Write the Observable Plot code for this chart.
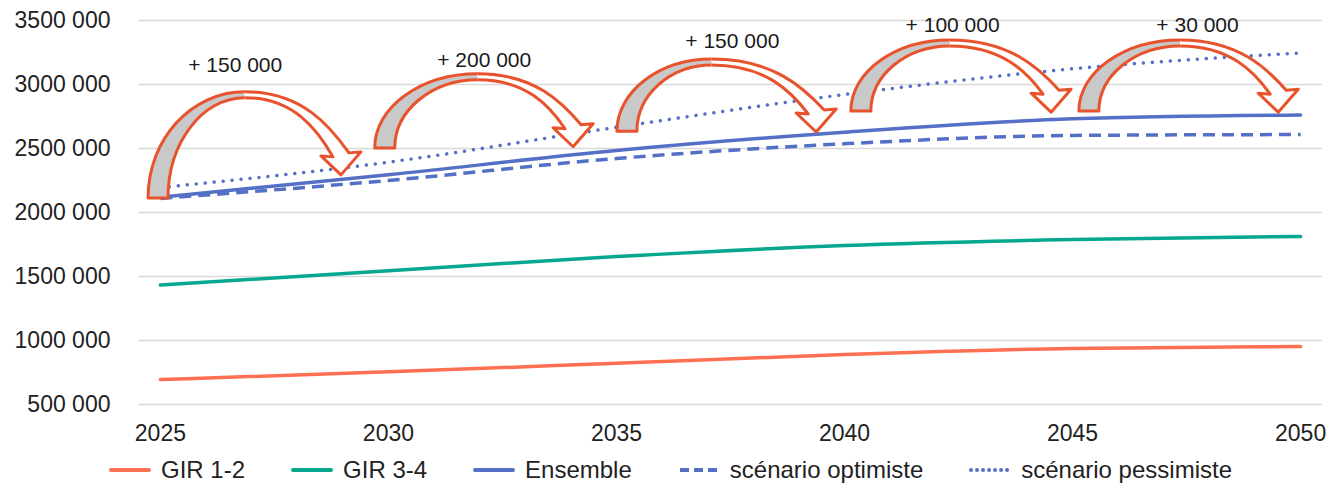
<!DOCTYPE html>
<html>
<head>
<meta charset="utf-8">
<script src="https://cdn.jsdelivr.net/npm/d3@7"></script>
<script src="https://cdn.jsdelivr.net/npm/@observablehq/plot@0.6"></script>
<style>
  html, body { margin: 0; padding: 0; background: #ffffff; }
  body { font-family: "Liberation Sans", Arial, sans-serif; color: #222; }
  #legend { display: flex; justify-content: center; align-items: center; height: 36px;
            font-size: 24px; color: #222; padding-left: 12px; }
  #legend .item { display: flex; align-items: center; margin: 0 23px; }
  #legend svg { margin-right: 10px; }
</style>
</head>
<body>
<div id="chart"></div>
<div id="legend"></div>
<script>
// ---- data ----
const years = [2025, 2030, 2035, 2040, 2045, 2050];
const gir12 = [695000, 755000, 822000, 890000, 938000, 953000];
const gir34 = [1433000, 1545000, 1656000, 1742000, 1789000, 1812000];
const ensemble = [2120000, 2295000, 2484000, 2627000, 2732000, 2762000];
const optimiste = [2110000, 2250000, 2422000, 2537000, 2602000, 2609000];
const pessimiste = [2195000, 2393000, 2666000, 2922000, 3123000, 3247000];

const seriesNames = ["GIR 1-2", "GIR 3-4", "Ensemble", "scénario optimiste", "scénario pessimiste"];

const xTicks = [2025, 2030, 2035, 2040, 2045, 2050];
const yTicks = [500000, 1000000, 1500000, 2000000, 2500000, 3000000, 3500000];
const yTickLabels = ["500 000", "1000 000", "1500 000", "2000 000", "2500 000", "3000 000", "3500 000"];

// annotations: increase labels and curved arrows (in data units)
const gainLabels = ["+ 150 000", "+ 200 000", "+ 150 000", "+ 100 000", "+ 30 000"];
const gainLabelYears = [2026.64, 2032.1, 2037.54, 2042.37, 2047.74];
const gainLabelValues = [3148000, 3187500, 3336000, 3461000, 3461000];
const arrowStartYears = [2024.74, 2029.71, 2035.02, 2040.15, 2045.15];
const arrowStartValues = [2110000, 2500000, 2630000, 2790000, 2790000];
const arrowTopYears = [2026.86, 2031.97, 2037.1, 2042.32, 2047.37];
const arrowTopValues = [2940000, 3080000, 3195000, 3344000, 3344000];
const arrowEndYears = [2028.97, 2034.06, 2039.39, 2044.54, 2049.52];
const arrowEndValues = [2290000, 2510000, 2625000, 2780000, 2780000];

// ---- styles ----
const blue = "#5470C6";
const styles = {
  "GIR 1-2": { stroke: "#FF7152", dash: null, cap: "round" },
  "GIR 3-4": { stroke: "#05A88E", dash: null, cap: "round" },
  "Ensemble": { stroke: blue, dash: null, cap: "round" },
  "scénario optimiste": { stroke: blue, dash: "12,7", cap: "butt" },
  "scénario pessimiste": { stroke: blue, dash: "0.01,9", cap: "round" }
};
const seriesValues = [gir12, gir34, ensemble, optimiste, pessimiste];
const rows = [];
seriesNames.forEach((s, j) => years.forEach((yr, i) => rows.push({ series: s, year: yr, value: seriesValues[j][i] })));

const annots = gainLabels.map((t, i) => ({ text: t, year: gainLabelYears[i], value: gainLabelValues[i] }));

const arrowStroke = "#E8522C";
function arrowsMark(index, scales) {
  const sx = scales.x, sy = scales.y;
  const g = d3.create("svg:g");
  const k = 0.5523, w = 20, th = 6, nw = 8, bw = 20, bh = 20;
  for (let i = 0; i < arrowStartYears.length; i++) {
    const x0 = sx(arrowStartYears[i]), yb = sy(arrowStartValues[i]);
    const xT = sx(arrowTopYears[i]), yT = sy(arrowTopValues[i]);
    const xt = sx(arrowEndYears[i]), ytp = sy(arrowEndValues[i]);
    const outerL = `C${x0},${yb - k * (yb - yT)} ${xT - k * (xT - x0)},${yT} ${xT},${yT}`;
    const innerL = `C${x0 + w},${yb - k * (yb - yT - th)} ${xT - k * (xT - x0 - w)},${yT + th} ${xT},${yT + th}`;
    const innerLrev = `C${xT - k * (xT - x0 - w)},${yT + th} ${x0 + w},${yb - k * (yb - yT - th)} ${x0 + w},${yb}`;
    const grayFill = `M${x0},${yb}${outerL}L${xT},${yT + th}${innerLrev}Z`;
    const grayStroke = `M${xT},${yT + th}${innerLrev}L${x0},${yb}${outerL}`;
    const nR = xt + nw, nL = xt - nw, by = ytp - bh;
    const whiteOpen = `M${xT},${yT}` +
      `C${xT + k * (nR - xT)},${yT} ${nR - 0.18 * (nR - xT)},${by - 0.45 * (by - yT)} ${nR},${by - 2}` +
      `L${xt + bw},${by - 3}L${xt},${ytp}L${xt - bw},${by + 1}L${nL},${by + 2}` +
      `C${nL - 0.18 * (nL - xT)},${by - 0.45 * (by - yT - th)} ${xT + k * (nL - xT)},${yT + th} ${xT},${yT + th}`;
    g.append("path").attr("d", grayFill).attr("fill", "#C9C9C9").attr("stroke", "none");
    g.append("path").attr("d", grayStroke).attr("fill", "none")
      .attr("stroke", arrowStroke).attr("stroke-width", 3).attr("stroke-linejoin", "round");
    g.append("path").attr("d", whiteOpen + "Z").attr("fill", "#ffffff").attr("stroke", "none");
    g.append("path").attr("d", whiteOpen).attr("fill", "none")
      .attr("stroke", arrowStroke).attr("stroke-width", 3).attr("stroke-linejoin", "round");
  }
  return g.node();
}

const lineMarks = seriesNames.map(s => Plot.line(rows.filter(d => d.series === s), {
  x: "year", y: "value", stroke: styles[s].stroke, strokeWidth: 3.5,
  strokeDasharray: styles[s].dash, strokeLinecap: styles[s].cap, curve: "monotone-x"
}));

const chart = Plot.plot({
  width: 1329,
  height: 452,
  marginLeft: 138,
  marginRight: 7,
  marginTop: 20,
  marginBottom: 48,
  style: { fontFamily: "'Liberation Sans', Arial, sans-serif", fontSize: "23px", color: "#222", background: "#ffffff", overflow: "visible" },
  x: { domain: [2024.52, 2050.48], ticks: xTicks, tickFormat: d => String(d), tickSize: 0, tickPadding: 20, label: null },
  y: { domain: [500000, 3500000], ticks: yTicks, tickFormat: d => yTickLabels[yTicks.indexOf(d)], tickSize: 0, tickPadding: 28, label: null },
  marks: [
    Plot.ruleY(yTicks, { stroke: "#D9D9D9", strokeWidth: 1.5 }),
    ...lineMarks,
    arrowsMark,
    Plot.text(annots, { x: "year", y: "value", text: "text", fontSize: 21, fill: "#1a1a1a" })
  ]
});
document.getElementById("chart").appendChild(chart);

// ---- legend ----
const legend = d3.select("#legend");
seriesNames.forEach(s => {
  const item = legend.append("div").attr("class", "item");
  const sw = item.append("svg").attr("width", 42).attr("height", 10);
  sw.append("line").attr("x1", 2).attr("x2", 40).attr("y1", 5).attr("y2", 5)
    .attr("stroke", styles[s].stroke).attr("stroke-width", 4)
    .attr("stroke-dasharray", styles[s].dash === "0.01,9" ? "0.01,6" : (styles[s].dash ? "9,5" : null))
    .attr("stroke-linecap", styles[s].cap);
  item.append("span").text(s);
});
</script>
</body>
</html>
